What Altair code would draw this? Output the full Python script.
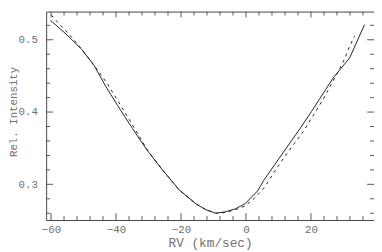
import altair as alt
import pandas as pd

# ---- data ----
solid_rv = [-60.2, -55.4, -50.6, -46.7, -43.1, -39.5, -34.9, -30.4, -25.9, -20.5,
            -15.4, -12.4, -9.3, -6.3, -3.3, -0.3, 3.6, 5.4, 10.2, 16.3,
            20.2, 26.8, 31.9, 36.5]
solid_int = [0.527, 0.508, 0.487, 0.464, 0.435, 0.409, 0.377, 0.347, 0.321, 0.292,
             0.273, 0.265, 0.260, 0.262, 0.266, 0.273, 0.291, 0.305, 0.336, 0.375,
             0.401, 0.447, 0.475, 0.521]

dashed_rv = [-59.9, -57.5, -54.5, -51.5, -48.5, -45.5, -42.5, -39.5, -34.9, -30.4,
             -25.9, -20.5, -15.4, -12.4, -9.3, -6.3, -3.3, -0.3, 2.7, 5.7,
             8.7, 11.8, 14.8, 17.8, 20.8, 23.8, 26.8, 28.6, 30.4, 31.9, 33.4]
dashed_int = [0.534, 0.522, 0.508, 0.492, 0.475, 0.457, 0.438, 0.416, 0.382, 0.348,
              0.321, 0.292, 0.273, 0.265, 0.260, 0.261, 0.265, 0.270, 0.281, 0.296,
              0.317, 0.338, 0.356, 0.374, 0.396, 0.418, 0.443, 0.458, 0.474, 0.491, 0.505]

x_major = [-60, -40, -20, 0, 20]
x_minor = [-56, -52, -48, -44, -36, -32, -28, -24, -16, -12, -8, -4,
           4, 8, 12, 16, 24, 28, 32, 36]
y_major = [0.3, 0.4, 0.5]
y_minor = [0.26, 0.28, 0.32, 0.34, 0.36, 0.38, 0.42, 0.44, 0.46, 0.48, 0.52]

x_domain = [-61.5, 39.4]
y_domain = [0.2506, 0.539]

# ---- layout / style ----
W, H = 335, 213
TEXT = "#707070"
TICK = "#555555"
LINE = "#222222"
FONT = "Liberation Mono"

xs = alt.Scale(domain=x_domain, nice=False, zero=False)
ys = alt.Scale(domain=y_domain, nice=False, zero=False)

xaxis = alt.Axis(
    title="RV (km/sec)", values=x_major, format="d", ticks=False,
    domain=False, grid=False, labelPadding=4, labelFont=FONT, labelFontSize=11,
    labelColor=TEXT, titleFont=FONT, titleFontSize=13, titleFontWeight="normal",
    titleColor=TEXT, titleBaseline="alphabetic", titleY=27, labelFlush=False,
)
yaxis = alt.Axis(
    title="Rel. Intensity", values=y_major, format=".1f", ticks=False,
    domain=False, grid=False, labelPadding=9, labelFont=FONT, labelFontSize=11,
    labelColor=TEXT, titleFont=FONT, titleFontSize=11, titleFontWeight="normal",
    titleColor=TEXT, titleBaseline="alphabetic", titleX=-30, titleY=102,
    titleAngle=270, labelFlush=False,
)

solid_df = pd.DataFrame({"rv": solid_rv, "intensity": solid_int})
dashed_df = pd.DataFrame({"rv": dashed_rv, "intensity": dashed_int})

X = lambda f: alt.X(f, scale=xs, axis=xaxis)
Y = lambda f: alt.Y(f, scale=ys, axis=yaxis)

solid = alt.Chart(solid_df).mark_line(color=LINE, strokeWidth=1).encode(
    x=X("rv:Q"), y=Y("intensity:Q"),
)
dashed = alt.Chart(dashed_df).mark_line(color=LINE, strokeWidth=1, strokeDash=[3, 4]).encode(
    x=X("rv:Q"), y=Y("intensity:Q"),
)


def xticks(vals, y0, y1):
    return alt.Chart(pd.DataFrame({"rv": vals})).mark_rule(color=TICK, strokeWidth=1).encode(
        x=X("rv:Q"), y=alt.value(y0), y2=alt.value(y1)
    )


def yticks(vals, x0, x1):
    return alt.Chart(pd.DataFrame({"intensity": vals})).mark_rule(color=TICK, strokeWidth=1).encode(
        y=Y("intensity:Q"), x=alt.value(x0), x2=alt.value(x1)
    )


layers = [
    solid, dashed,
    xticks(x_major, H, H - 7), xticks(x_minor, H, H - 4),
    xticks(x_major, 0, 6), xticks(x_minor, 0, 4),
    yticks(y_major, 0, 7), yticks(y_minor, 0, 4),
    yticks(y_major, W, W - 7), yticks(y_minor, W, W - 4),
]

chart = alt.layer(*layers).properties(
    width=W, height=H, autosize="none",
    padding={"left": 39, "top": 1, "right": 0, "bottom": 30},
).configure_view(stroke="#444444", strokeWidth=1)

chart.save("out.html", embed_options={"renderer": "svg", "actions": False})
